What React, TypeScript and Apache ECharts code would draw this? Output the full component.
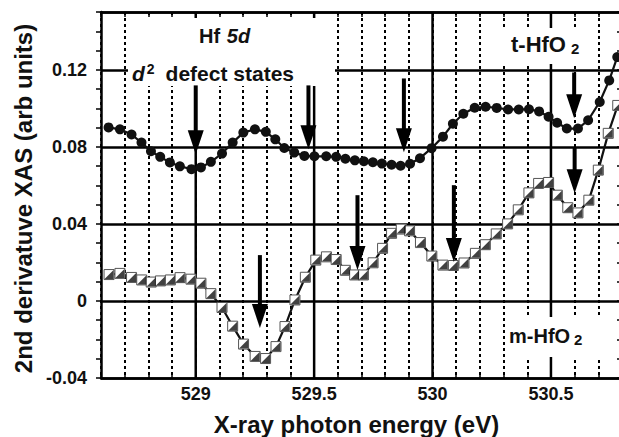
import React, { useEffect, useRef } from 'react';
import * as echarts from 'echarts';

const FONT = '"Liberation Sans", Arial, Helvetica, sans-serif';

// t-HfO2 (filled circles)
const tX = [528.632, 528.680, 528.729, 528.771, 528.811, 528.850, 528.891, 528.933, 528.982, 529.022, 529.064, 529.111, 529.156, 529.201, 529.250, 529.296, 529.336, 529.374, 529.416, 529.459, 529.501, 529.551, 529.593, 529.632, 529.672, 529.710, 529.748, 529.786, 529.827, 529.865, 529.905, 529.947, 529.996, 530.044, 530.086, 530.130, 530.178, 530.224, 530.271, 530.319, 530.364, 530.407, 530.450, 530.490, 530.526, 530.567, 530.614, 530.657, 530.706, 530.746, 530.780];
const tY = [0.0901, 0.0891, 0.0864, 0.0822, 0.0777, 0.0748, 0.0719, 0.0699, 0.0684, 0.0693, 0.0722, 0.0765, 0.0822, 0.0874, 0.0891, 0.0878, 0.0839, 0.0794, 0.0770, 0.0753, 0.0751, 0.0751, 0.0748, 0.0738, 0.0730, 0.0725, 0.0720, 0.0713, 0.0707, 0.0702, 0.0712, 0.0741, 0.0793, 0.0853, 0.0920, 0.0972, 0.1003, 0.1008, 0.1002, 0.0994, 0.0994, 0.0995, 0.0984, 0.0956, 0.0925, 0.0895, 0.0895, 0.0938, 0.1033, 0.1145, 0.1266];

// m-HfO2 (half-filled squares)
const mX = [528.634, 528.680, 528.729, 528.772, 528.812, 528.851, 528.893, 528.934, 528.980, 529.022, 529.064, 529.111, 529.156, 529.202, 529.251, 529.295, 529.339, 529.377, 529.419, 529.463, 529.507, 529.552, 529.593, 529.632, 529.671, 529.708, 529.749, 529.789, 529.827, 529.868, 529.903, 529.949, 529.997, 530.044, 530.088, 530.133, 530.181, 530.223, 530.269, 530.317, 530.362, 530.407, 530.448, 530.490, 530.527, 530.571, 530.614, 530.660, 530.700, 530.742, 530.782];
const mY = [0.0137, 0.0143, 0.0122, 0.0109, 0.0098, 0.0104, 0.0109, 0.0121, 0.0113, 0.0092, 0.0038, -0.0034, -0.0131, -0.0224, -0.0288, -0.0299, -0.0237, -0.0133, 0.0005, 0.0123, 0.0212, 0.0229, 0.0215, 0.0159, 0.0135, 0.0135, 0.0198, 0.0273, 0.0351, 0.0373, 0.0364, 0.0303, 0.0233, 0.0186, 0.0184, 0.0197, 0.0247, 0.0292, 0.0348, 0.0400, 0.0473, 0.0561, 0.0610, 0.0615, 0.0549, 0.0484, 0.0457, 0.0523, 0.0679, 0.0870, 0.1015];

// solid vertical grid lines at labelled energies
const solidX = [529, 529.5, 530, 530.5];

// arrows: energy, top value, tip value
const arrowX = [529.0, 529.476, 529.879, 530.598, 530.6, 530.09, 529.683, 529.271];
const arrowTop = [0.1119, 0.1119, 0.1155, 0.1186, 0.0798, 0.0601, 0.0549, 0.0238];
const arrowTip = [0.0761, 0.0787, 0.0772, 0.0948, 0.0559, 0.0202, 0.0161, -0.0140];

const X_MIN = 528.6;
const X_MAX = 530.8;
const Y_MIN = -0.04;
const Y_MAX = 0.15;

export default function App() {
  const ref = useRef<HTMLDivElement>(null);
  useEffect(() => {
    if (!ref.current) return;
    const chart = echarts.init(ref.current, null, { renderer: 'svg' });
    const black = '#000';
    const option: any = {
      animation: false,
      backgroundColor: '#fff',
      grid: { left: 101, top: 12, width: 521, height: 366, containLabel: false, outerBoundsMode: 'none' },
      xAxis: [
        {
          type: 'value', position: 'bottom', min: X_MIN, max: X_MAX, interval: 0.1,
          axisLine: { show: true, onZero: false, lineStyle: { color: black, width: 2.5 } },
          axisTick: { show: true, inside: true, length: 5, lineStyle: { color: black, width: 1.5 } },
          axisLabel: {
            margin: 7, fontSize: 18, fontWeight: 'bold', color: '#111', fontFamily: FONT,
            formatter: (v: number) => {
              const r = Math.round(v * 10);
              return r % 5 === 0 ? String(r / 10) : '';
            },
          },
          splitLine: { show: true, lineStyle: { color: black, width: 2, type: [3, 3] } },
          name: 'X-ray photon energy (eV)', nameLocation: 'middle', nameGap: 34,
          nameTextStyle: { fontSize: 24, fontWeight: 'bold', color: '#111', fontFamily: FONT, padding: [0, 10, 0, 0] },
        },
        {
          type: 'value', position: 'top', min: X_MIN, max: X_MAX, interval: 0.1,
          axisLine: { show: true, onZero: false, lineStyle: { color: black, width: 2.5 } },
          axisTick: { show: true, inside: true, length: 5, lineStyle: { color: black, width: 1.5 } },
          axisLabel: { show: false },
          splitLine: { show: false },
        },
      ],
      yAxis: [
        {
          type: 'value', position: 'left', min: Y_MIN, max: Y_MAX, interval: 0.01,
          axisLine: { show: true, onZero: false, lineStyle: { color: black, width: 2.5 } },
          axisTick: { show: true, inside: false, length: 5, lineStyle: { color: black, width: 1.5 } },
          axisLabel: {
            margin: 14, fontSize: 18, fontWeight: 'bold', color: '#111', fontFamily: FONT,
            formatter: (v: number) => {
              const r = Math.round(v * 100);
              if (r % 4 !== 0) return '';
              return r === 0 ? '0' : (r / 100).toFixed(2);
            },
          },
          splitLine: { show: false },
          name: '2nd derivatuve XAS (arb units)', nameLocation: 'middle', nameGap: 64,
          nameTextStyle: { fontSize: 24, fontWeight: 'bold', color: '#111', fontFamily: FONT, padding: [0, 7, 0, 0] },
        },
        {
          type: 'value', position: 'right', min: Y_MIN, max: Y_MAX, interval: 0.01,
          axisLine: { show: true, onZero: false, lineStyle: { color: black, width: 2.5 } },
          axisTick: { show: true, inside: true, length: 5, lineStyle: { color: black, width: 1.5 } },
          axisLabel: { show: false },
          splitLine: { show: false },
        },
        {
          type: 'value', position: 'left', min: Y_MIN, max: Y_MAX, interval: 0.04,
          axisLine: { show: false }, axisTick: { show: false }, axisLabel: { show: false },
          splitLine: { show: true, lineStyle: { color: black, width: 2.5, type: 'solid' } },
        },
      ],
      graphic: [
        { type: 'rect', z: 1, silent: true, shape: { x: 128, y: 18, width: 207, height: 68 }, style: { fill: '#fff' } },
        { type: 'rect', z: 1, silent: true, shape: { x: 498, y: 28, width: 94, height: 36 }, style: { fill: '#fff' } },
        { type: 'rect', z: 1, silent: true, shape: { x: 508, y: 317, width: 94, height: 40 }, style: { fill: '#fff' } },
        {
          type: 'text', z: 10, x: 199, y: 36,
          style: {
            text: '{a|Hf}  {b|5d}', verticalAlign: 'middle', align: 'left',
            rich: {
              a: { fontSize: 20, fontWeight: 'bold', fontFamily: FONT, fill: '#111' },
              b: { fontSize: 20, fontWeight: 'bold', fontStyle: 'italic', fontFamily: FONT, fill: '#111' },
            },
          },
        },
        {
          type: 'text', z: 10, x: 132, y: 73,
          style: {
            text: '{i|d}{s|2}{n|defect states}', verticalAlign: 'middle', align: 'left',
            rich: {
              i: { fontSize: 21, fontWeight: 'bold', fontStyle: 'italic', fontFamily: FONT, fill: '#111', lineHeight: 22 },
              s: { fontSize: 14, fontWeight: 'bold', fontFamily: FONT, fill: '#111', verticalAlign: 'top', padding: [0, 0, 0, 2], lineHeight: 14 },
              n: { fontSize: 21, fontWeight: 'bold', fontFamily: FONT, fill: '#111', padding: [0, 0, 0, 11], lineHeight: 22 },
            },
          },
        },
        {
          type: 'text', z: 10, x: 511, y: 44,
          style: {
            text: '{m|t-HfO}{s|2}', verticalAlign: 'middle', align: 'left',
            rich: {
              m: { fontSize: 22, fontWeight: 'bold', fontFamily: FONT, fill: '#111', lineHeight: 24 },
              s: { fontSize: 15, fontWeight: 'bold', fontFamily: FONT, fill: '#111', verticalAlign: 'bottom', padding: [0, 0, 0, 5], lineHeight: 15 },
            },
          },
        },
        {
          type: 'text', z: 10, x: 509, y: 336,
          style: {
            text: '{m|m-HfO}{s|2}', verticalAlign: 'middle', align: 'left',
            rich: {
              m: { fontSize: 20, fontWeight: 'bold', fontFamily: FONT, fill: '#111', lineHeight: 22 },
              s: { fontSize: 15, fontWeight: 'bold', fontFamily: FONT, fill: '#111', verticalAlign: 'bottom', padding: [0, 0, 0, 4], lineHeight: 15 },
            },
          },
        },
      ],
      series: [
        {
          type: 'custom', name: 'solid grid', z: 0, silent: true,
          xAxisIndex: 0, yAxisIndex: 0,
          data: solidX.map((x) => [x, 0]),
          renderItem: (_p: any, api: any) => {
            const x = api.value(0);
            const a = api.coord([x, Y_MIN]);
            const b = api.coord([x, Y_MAX]);
            return { type: 'line', shape: { x1: a[0], y1: a[1], x2: b[0], y2: b[1] }, style: { stroke: '#000', lineWidth: 2.5 } };
          },
        },
        {
          type: 'line', name: 't-HfO2', z: 3, xAxisIndex: 0, yAxisIndex: 0,
          data: tX.map((x, i) => [x, tY[i]]),
          symbol: 'circle', symbolSize: 10, showAllSymbol: true,
          itemStyle: { color: '#111' },
          lineStyle: { color: '#111', width: 2.2 },
        },
        {
          type: 'line', name: 'm-HfO2', z: 3, xAxisIndex: 0, yAxisIndex: 0,
          data: mX.map((x, i) => [x, mY[i]]),
          symbol: 'rect', symbolSize: 10, showAllSymbol: true,
          itemStyle: { color: '#fff', borderColor: '#555', borderWidth: 1 },
          lineStyle: { color: '#111', width: 2.2 },
        },
        {
          type: 'scatter', name: 'm-HfO2 fill', z: 4, xAxisIndex: 0, yAxisIndex: 0,
          data: mX.map((x, i) => [x, mY[i]]),
          symbol: 'path://M10,0 L10,10 L0,10 Z', symbolSize: 9,
          itemStyle: { color: '#111' },
        },
        {
          type: 'custom', name: 'arrows', z: 5, silent: true,
          xAxisIndex: 0, yAxisIndex: 0,
          data: arrowX.map((x, i) => [x, arrowTop[i], arrowTip[i]]),
          encode: { x: 0, y: [1, 2] },
          renderItem: (_p: any, api: any) => {
            const x = api.value(0);
            const p1 = api.coord([x, api.value(1)]);
            const p2 = api.coord([x, api.value(2)]);
            const headL = 24, headW = 16, shaftW = 4;
            return {
              type: 'group',
              children: [
                { type: 'rect', shape: { x: p1[0] - shaftW / 2, y: p1[1], width: shaftW, height: Math.max(0, p2[1] - headL - p1[1] + 1) }, style: { fill: '#000' } },
                { type: 'polygon', shape: { points: [[p2[0] - headW / 2, p2[1] - headL], [p2[0] + headW / 2, p2[1] - headL], [p2[0], p2[1]]] }, style: { fill: '#000' } },
              ],
            };
          },
        },
      ],
    };
    chart.setOption(option);
    return () => chart.dispose();
  }, []);
  return (
    <div
      ref={ref}
      style={{ position: 'fixed', left: 0, top: 0, width: 619, height: 437, background: '#fff' }}
    />
  );
}
